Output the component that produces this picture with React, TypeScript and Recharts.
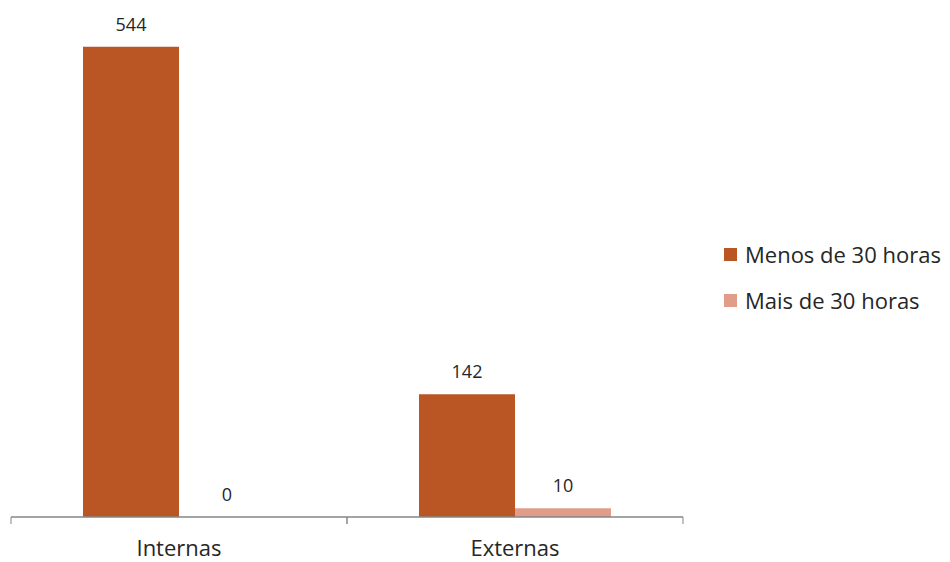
import React from 'react';
import { BarChart, Bar, XAxis, YAxis, LabelList, Cell } from 'recharts';

const categories = ['Internas', 'Externas'];
const menos = [544, 142];
const mais = [0, 10];
const seriesNames = ['Menos de 30 horas', 'Mais de 30 horas'];

const data = categories.map((name, i) => ({ name, menos: menos[i], mais: mais[i] }));

const DARK = '#BA5624';
const LIGHT = '#E09D89';
const FONT = '"Open Sans", "Noto Sans", sans-serif';

function EdgeTick(props: any) {
  const { x, y, payload } = props;
  const half = payload && payload.offset ? payload.offset : 168;
  return (
    <g>
      <line x1={x - half} y1={y - 8} x2={x - half} y2={y - 1} stroke="#868686" />
      <line x1={x + half} y1={y - 8} x2={x + half} y2={y - 1} stroke="#868686" />
      <text x={x} y={y + 31} textAnchor="middle" fill="#262626" fontSize={22} fontFamily={FONT}>
        {payload.value}
      </text>
    </g>
  );
}

// value above the bar; zero bars get a 1px (invisible) min height so the label still shows
function ValueLabel(props: any) {
  const { x, y, width, height, value } = props;
  const top = value === 0 ? y + height : y;
  return (
    <text x={x + width / 2} y={top - 16} textAnchor="middle" fill="#262626" fontSize={18} fontFamily={FONT}>
      {value}
    </text>
  );
}

function LegendBox() {
  const colors = [DARK, LIGHT];
  return (
    <div style={{ position: 'absolute', left: 724, top: 231, fontFamily: FONT, fontSize: 22, color: '#262626' }}>
      {seriesNames.map((label, i) => (
        <div key={label} style={{ display: 'flex', alignItems: 'center', height: 46 }}>
          <span style={{ display: 'inline-block', width: 13, height: 13, background: colors[i], marginRight: 8 }} />
          <span style={{ whiteSpace: 'nowrap' }}>{label}</span>
        </div>
      ))}
    </div>
  );
}

export default function App() {
  return (
    <div style={{ position: 'absolute', left: 0, top: 0, width: 950, height: 562, background: '#fff' }}>
      <BarChart
        width={950}
        height={562}
        data={data}
        margin={{ top: 33, right: 267, left: 11, bottom: 0 }}
        barCategoryGap={72}
        barGap={0}
      >
        <YAxis hide domain={[0, 560]} />
        <Bar dataKey="menos" name={seriesNames[0]} fill={DARK} barSize={96} isAnimationActive={false}>
          <LabelList dataKey="menos" content={<ValueLabel />} />
        </Bar>
        <Bar dataKey="mais" name={seriesNames[1]} fill={LIGHT} barSize={96} minPointSize={1} isAnimationActive={false}>
          {mais.map((v, i) => (
            <Cell key={i} fill={v === 0 ? 'transparent' : LIGHT} />
          ))}
          <LabelList dataKey="mais" content={<ValueLabel />} />
        </Bar>
        <XAxis
          dataKey="name"
          height={45}
          axisLine={{ stroke: '#868686', strokeWidth: 1.5 }}
          tickLine={false}
          tick={<EdgeTick />}
          interval={0}
        />
      </BarChart>
      <LegendBox />
    </div>
  );
}
